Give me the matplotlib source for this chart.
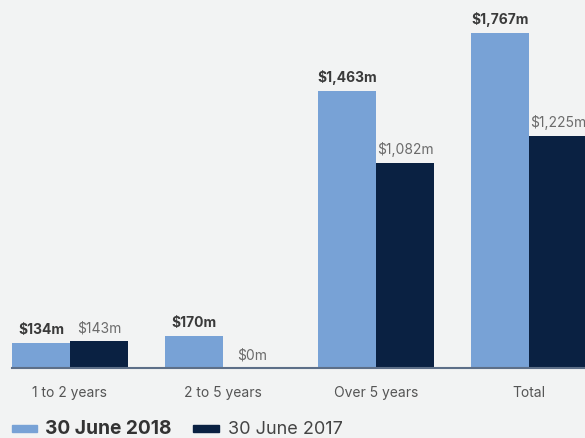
import numpy as np
import matplotlib.pyplot as plt
from matplotlib.patches import Rectangle

categories = ["1 to 2 years", "2 to 5 years", "Over 5 years", "Total"]
values_2018 = [134, 170, 1463, 1767]
values_2017 = [143, 0, 1082, 1225]
series_names = ["30 June 2018", "30 June 2017"]

BG = "#f2f3f3"
LIGHT = "#78a2d6"
DARK = "#0a2142"

plt.rcParams["font.family"] = ["Inter", "DejaVu Sans"]

W, H = 585, 438
fig = plt.figure(figsize=(W / 100, H / 100), dpi=100, facecolor=BG)
ax = fig.add_axes([12 / W, 70 / H, 573 / W, 368 / H], facecolor=BG)

x = np.arange(len(categories))
w = 58 / 153

bars18 = ax.bar(x - w / 2, values_2018, w, color=LIGHT, linewidth=0)
bars17 = ax.bar(x + w / 2, values_2017, w, color=DARK, linewidth=0)

for b, v in zip(bars18, values_2018):
    ax.annotate(f"${v:,}m", (b.get_x() + b.get_width() / 2, v),
                xytext=(0, 4), textcoords="offset points", ha="center", va="bottom",
                fontsize=10, fontweight="bold", color="#3a3a3a")
for b, v in zip(bars17, values_2017):
    ax.annotate(f"${v:,}m", (b.get_x() + b.get_width() / 2, v),
                xytext=(0, 4), textcoords="offset points", ha="center", va="bottom",
                fontsize=10, color="#6b6b6b", annotation_clip=False)

ax.set_xlim(-w, (585 - 70) / 153)
ax.set_ylim(0, 1767 * 368 / 335)
ax.set_xticks(x)
ax.set_xticklabels(categories, fontsize=10, color="#555555")
ax.tick_params(axis="x", length=0, pad=13)
ax.set_yticks([])
for s in ["top", "right", "left"]:
    ax.spines[s].set_visible(False)
ax.spines["bottom"].set_color("#5d6f88")
ax.spines["bottom"].set_linewidth(1.5)

# legend along the bottom edge
fig.patches.append(Rectangle((12 / W, 1 - 432 / H), 25 / W, 7 / H,
                             transform=fig.transFigure, color=LIGHT))
fig.text(45 / W, 1 - 429 / H, series_names[0], fontsize=13.8, fontweight="bold",
         color="#333333", va="center", ha="left")
fig.patches.append(Rectangle((193 / W, 1 - 432 / H), 26 / W, 7 / H,
                             transform=fig.transFigure, color=DARK))
fig.text(228 / W, 1 - 429 / H, series_names[1], fontsize=13,
         color="#444444", va="center", ha="left")

fig.savefig("out.png", dpi=100, facecolor=BG)
